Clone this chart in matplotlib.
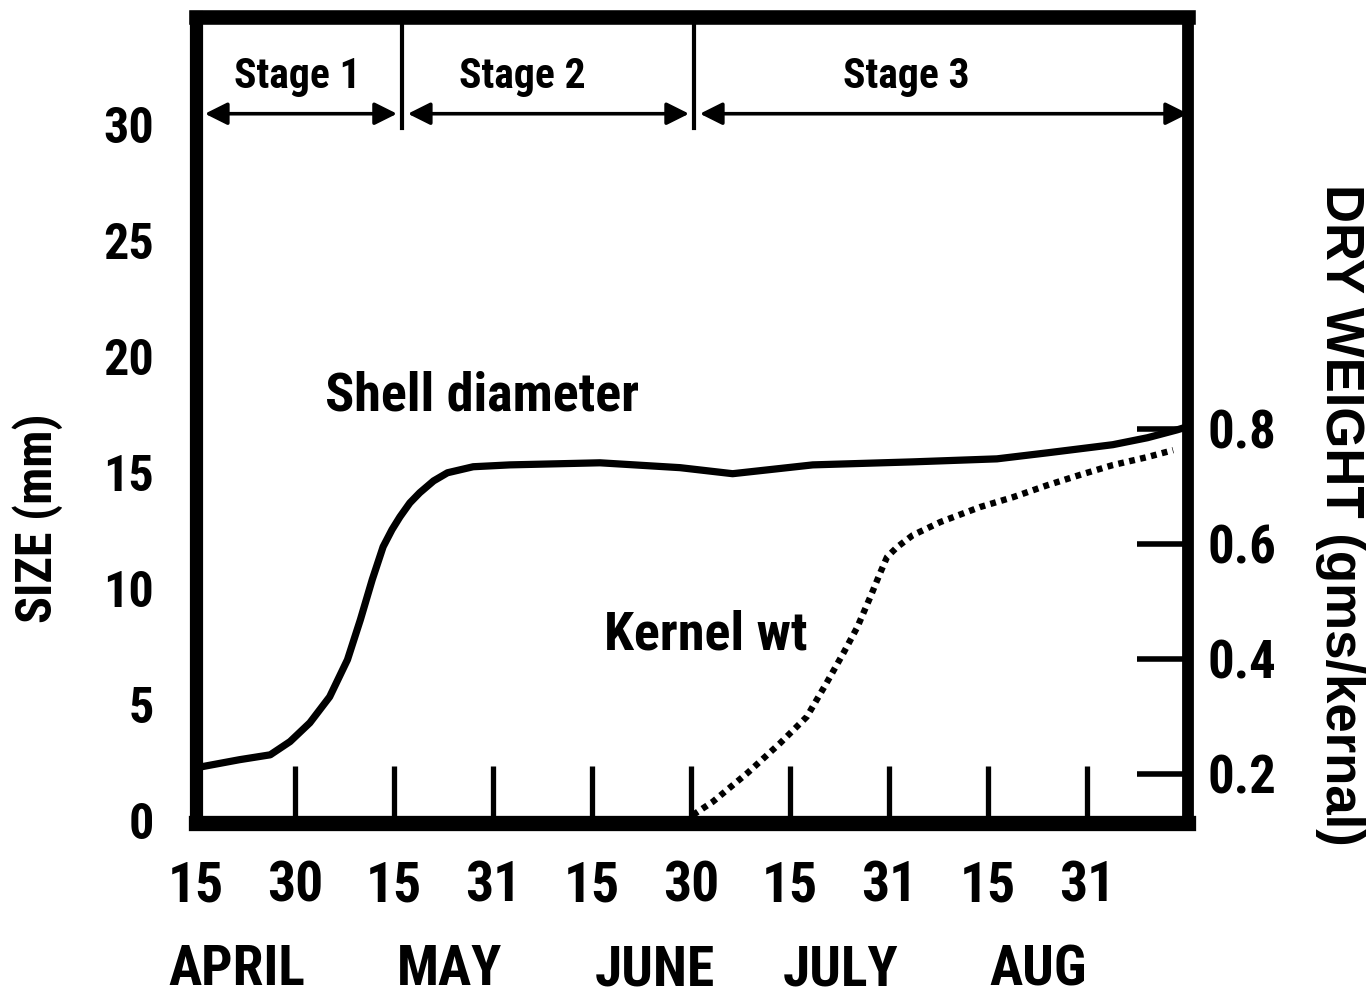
import matplotlib
matplotlib.use('Agg')
import matplotlib.pyplot as plt
from matplotlib import font_manager
from matplotlib.transforms import blended_transform_factory

names = {f.name for f in font_manager.fontManager.ttflist}
COND = [n for n in ['Roboto Condensed', 'PT Sans Narrow', 'Liberation Sans'] if n in names] + ['DejaVu Sans']
NS = 1.0 if COND[0] in ('Roboto Condensed', 'PT Sans Narrow') else 0.85
WIDE = ['Liberation Sans', 'DejaVu Sans']

# ---------------- data ----------------
tick_days = ['15', '30', '15', '31', '15', '30', '15', '31', '15', '31']
months = ['APRIL', 'MAY', 'JUNE', 'JULY', 'AUG']
size_ticks = [0, 5, 10, 15, 20, 25, 30]
weight_ticks = [0.2, 0.4, 0.6, 0.8]
stage_names = ['Stage 1', 'Stage 2', 'Stage 3']
stage_bounds = [0.0, 2.08, 5.03, 10.02]

# x = half-month index (0 = 15 April, 1 = 30 April, ...)
shell_x = [0.0, 0.44, 0.75, 0.95, 1.15, 1.35, 1.53, 1.66, 1.78, 1.89, 1.98, 2.06,
           2.16, 2.26, 2.40, 2.54, 2.80, 3.17, 4.08, 4.89, 5.42, 6.23, 7.24,
           8.09, 8.60, 9.26, 9.61, 9.91, 10.01]
shell_mm = [2.28, 2.63, 2.84, 3.41, 4.22, 5.34, 6.94, 8.66, 10.39, 11.81, 12.55,
            13.10, 13.70, 14.14, 14.65, 15.00, 15.26, 15.34, 15.43, 15.22, 14.96,
            15.34, 15.47, 15.60, 15.86, 16.21, 16.51, 16.85, 16.98]

kernel_x = [5.02, 5.22, 5.57, 5.90, 6.17, 6.37, 6.54, 6.68, 6.81, 6.91, 6.98,
            7.08, 7.24, 7.52, 7.92, 8.25, 8.60, 8.93, 9.26, 9.61, 9.87]
kernel_wt = [0.128, 0.151, 0.201, 0.253, 0.299, 0.358, 0.410, 0.455, 0.507,
             0.549, 0.577, 0.594, 0.615, 0.638, 0.664, 0.681, 0.702, 0.720,
             0.737, 0.751, 0.763]

# ---------------- figure ----------------
W, H = 1367, 996
fig = plt.figure(figsize=(W / 100, H / 100), dpi=100)
L, R, T, B = 196, 1188, 17, 823
ax = fig.add_axes([L / W, 1 - B / H, (R - L) / W, (B - T) / H])
ax.set_xlim(0, 10.02)
ax.set_ylim(-0.1, 34.65)

ax2 = ax.twinx()
ax2.set_ylim(0.114, 1.517)

for s in ax2.spines.values():
    s.set_visible(False)
ax.spines['left'].set_linewidth(9.5)
ax.spines['right'].set_linewidth(8.5)
ax.spines['top'].set_linewidth(10.5)
ax.spines['bottom'].set_linewidth(11)
for s in ax.spines.values():
    s.set_capstyle('projecting')
    s.set_zorder(5)

# curves
ax.plot(shell_x, shell_mm, color='black', lw=5.2, solid_capstyle='round',
        solid_joinstyle='round', zorder=3)
ax2.plot(kernel_x, kernel_wt, color='black', lw=4.6, linestyle=(0, (0.9, 0.85)),
         dash_capstyle='butt', zorder=3)

# x ticks
ax.set_xticks(range(len(tick_days)))
ax.set_xticklabels(tick_days, fontfamily=COND, fontweight='bold', fontsize=40 * NS)
ax.tick_params(axis='x', direction='in', length=41, width=3.8, pad=27, color='black')

# left y ticks
ax.set_yticks(size_ticks)
ax.set_yticklabels([str(v) for v in size_ticks], fontfamily=COND,
                   fontweight='bold', fontsize=36 * NS)
ax.tick_params(axis='y', which='major', length=0, pad=30)
ax.set_yticks(size_ticks[1:-1], minor=True)
ax.tick_params(axis='y', which='minor', direction='in', length=39, width=4, color='black')

# right y ticks
ax2.set_yticks(weight_ticks)
ax2.set_yticklabels(['%.1f' % v for v in weight_ticks], fontfamily=COND,
                    fontweight='bold', fontsize=38 * NS)
ax2.tick_params(axis='y', direction='in', length=37, width=4, pad=14, color='black')

# stage annotations
trans = blended_transform_factory(ax.transData, ax.transAxes)
for xb in stage_bounds[1:-1]:
    ax.plot([xb, xb], [0.862, 1.0], transform=trans, color='black', lw=3, zorder=4,
            clip_on=False)
arrow_y = 0.880
gaps = [(0.09, 0.05), (0.06, 0.05), (0.06, 0.0)]
label_x = [1.02, 3.30, 7.17]
for i, name in enumerate(stage_names):
    x0 = stage_bounds[i] + gaps[i][0]
    x1 = stage_bounds[i + 1] - gaps[i][1]
    ax.annotate('', xy=(x1, arrow_y), xytext=(x0, arrow_y), xycoords=trans,
                textcoords=trans,
                arrowprops=dict(arrowstyle='<|-|>', lw=2.6, color='black',
                                mutation_scale=34, shrinkA=0, shrinkB=0))
    ax.text(label_x[i], 0.926, name, transform=trans, ha='center', va='center',
            fontfamily=COND, fontweight='bold', fontsize=30 * NS)

# curve labels
ax.text(2.89, 18.3, 'Shell diameter', ha='center', va='center', fontfamily=COND,
        fontweight='bold', fontsize=39 * NS)
ax.text(5.15, 8.0, 'Kernel wt', ha='center', va='center', fontfamily=COND,
        fontweight='bold', fontsize=39 * NS)

# month labels
mtrans = blended_transform_factory(ax.transData, fig.transFigure)
for xm, m in zip([0.41, 2.56, 4.63, 6.51, 8.51], months):
    ax.text(xm, 1 - 970 / H, m, transform=mtrans, ha='center', va='center',
            fontfamily=COND, fontweight='bold', fontsize=40 * NS, clip_on=False)

# axis titles
fig.text(38 / W, 1 - 518 / H, 'SIZE (mm)', rotation=90, ha='center', va='center',
         fontfamily=COND, fontweight='bold', fontsize=36 * NS)
fig.text(1340 / W, 1 - 515 / H, 'DRY WEIGHT (gms/kernal)', rotation=-90,
         ha='center', va='center', fontfamily=WIDE, fontweight='bold', fontsize=38)

fig.savefig('out.png', dpi=100, facecolor='white')
